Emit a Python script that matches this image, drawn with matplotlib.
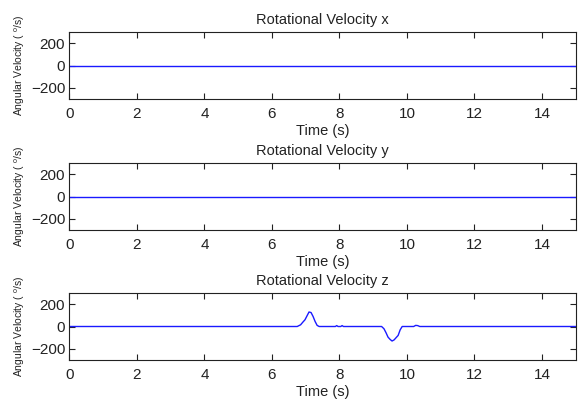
#!/usr/bin/env python3
import matplotlib
matplotlib.use("Agg")
import matplotlib.pyplot as plt
import numpy as np

plt.rcParams['font.family'] = ['Liberation Sans', 'DejaVu Sans']
plt.rcParams['mathtext.fontset'] = 'custom'
plt.rcParams['mathtext.rm'] = 'Liberation Sans'
plt.rcParams['mathtext.it'] = 'Liberation Sans'

titles = ["Rotational Velocity x", "Rotational Velocity y", "Rotational Velocity z"]

# x and y stay flat at zero over the whole record
time_flat = [0.0, 15.0]
vel_x = [0.0, 0.0]
vel_y = [0.0, 0.0]

# z: a positive swing near 7 s and a negative swing near 9.5 s
time_z = [0.0, 6.75, 6.85, 6.92, 6.98, 7.04, 7.10, 7.16, 7.22, 7.28, 7.34, 7.40,
          7.88, 7.92, 7.96, 8.04, 8.08, 8.12, 8.16, 9.25, 9.32, 9.38, 9.44, 9.50,
          9.56, 9.62, 9.68, 9.74, 9.80, 9.86, 10.2, 10.26, 10.32, 10.38, 15.0]
vel_z = [0, 0, 15, 40, 60, 95, 130, 125, 90, 45, 10, 0,
         0, 8, 0, 0, 8, 0, 0, 0, -20, -55, -95, -115,
         -130, -120, -100, -80, -30, 0, 0, 10, 8, 0, 0]

series = [(time_flat, vel_x), (time_flat, vel_y), (time_z, vel_z)]

fig = plt.figure(figsize=(5.78, 4.0), dpi=100)
bottoms = [0.7525, 0.425, 0.10]
for k in range(3):
    ax = fig.add_axes([0.120, bottoms[k], 0.876, 0.1675])
    t, v = series[k]
    ax.plot(t, v, color='#1a1aff', linewidth=1.0)
    ax.set_xlim(0, 15)
    ax.set_ylim(-300, 300)
    ax.set_xticks(np.arange(0, 15, 2))
    ax.set_yticks([-200, 0, 200])
    ax.tick_params(direction='in', top=True, right=True, length=4,
                   labelsize=11, width=0.8, colors='#222222')
    ax.tick_params(axis='x', pad=6)
    ax.tick_params(axis='y', pad=3)
    for s in ax.spines.values():
        s.set_linewidth(0.8)
        s.set_color('#222222')
    ax.set_title(titles[k], fontsize=10.5, pad=6, color='#222222')
    ax.set_xlabel("Time (s)", fontsize=10.5, labelpad=2, color='#222222')
    ax.set_ylabel("Angular Velocity ( $^{\\mathrm{o}}$/s)", fontsize=7.5,
                  labelpad=3, color='#222222')

fig.savefig("out.png", dpi=100)
